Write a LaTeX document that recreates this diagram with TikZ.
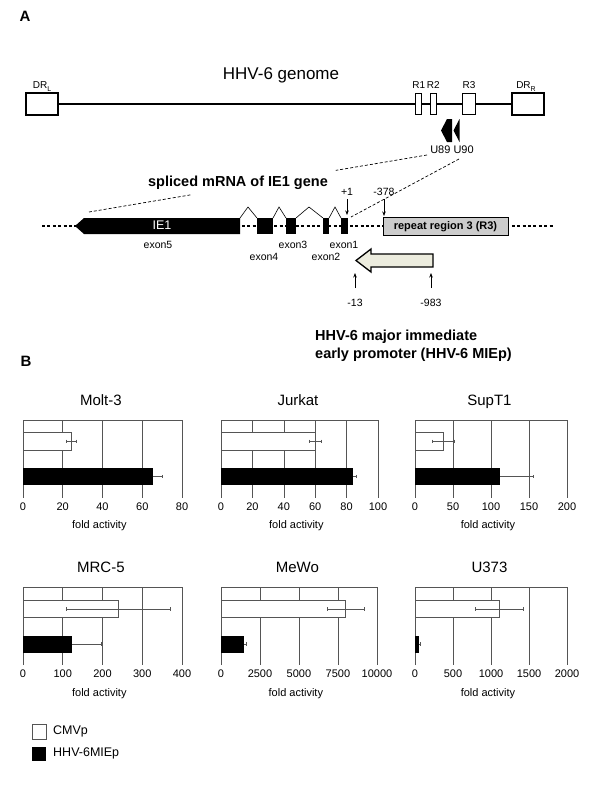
\documentclass[tikz,border=0pt]{standalone}
\usepackage{fontspec}
\setmainfont{Liberation Sans}
\usetikzlibrary{calc,arrows.meta}
\definecolor{beige}{RGB}{236,236,222}
\definecolor{rgray}{RGB}{204,204,204}
\definecolor{gline}{RGB}{85,85,85}
\newcommand\fs[1]{\fontsize{#1}{#1}\selectfont}
\newcommand\subL[1]{\raisebox{-0.5ex}{\fontsize{7}{7}\selectfont #1}}
\tikzset{
  txt/.style={inner sep=0pt, text height=0.72em, text depth=0pt},
  lbl/.style={txt, font=\fs{10.5}},
  tick/.style={txt, font=\fs{11}},
  xlab/.style={txt, font=\fs{11}},
  ctitle/.style={txt, font=\fs{15}},
  btitle/.style={txt, font=\fs{14.5}\bfseries},
  gridl/.style={draw=gline, line width=0.6pt},
  obar/.style={draw=gline, fill=white, line width=0.6pt},
  ebar/.style={draw=gline, line width=0.5pt},
  dr/.style={draw, fill=white, line width=1.4pt, minimum width=32pt, minimum height=22pt, inner sep=0pt},
  rbox/.style={draw, fill=white, line width=0.6pt, minimum height=21pt, inner sep=0pt},
  dashln/.style={line width=0.7pt, dash pattern=on 3pt off 2pt},
  dotln/.style={line width=2.8pt, dash pattern=on 3pt off 2.4pt},
  caret/.style={line width=0.6pt},
  darr/.style={line width=0.7pt, -{Stealth[length=4.5pt,width=3.5pt]}},
}
% chart frame: #1 name, #2 x0, #3 ytop, #4 xscale, #5 max, #6 grid list, #7 tick list, #8 title
\newcommand\chart[8]{%
  \begin{scope}[shift={(#2,#3)}, xscale=#4]
    \foreach \g in {#6} \draw[gridl] (\g,0) -- (\g,77.5);
    \draw[gridl] (0,77.5) -- (0,0) -- (#5,0) -- (#5,77.5);
    \foreach \t in {#7} \node[tick] at (\t,86.5) {\t};
    \node[ctitle] (#1-title) at (#5*0.49,-18.5) {#8};
    \node[xlab] (#1-xlab) at (#5*0.48,105) {fold activity};
  \end{scope}}
% bars: #1 x0, #2 ytop, #3 xscale, #4 open val, #5 open lo, #6 open hi, #7 black val, #8 black hi
\newcommand\cbars[8]{%
  \begin{scope}[shift={(#1,#2)}, xscale=#3]
    \draw[obar] (0,12.5) rectangle (#4,30);
    \draw[ebar] (#5,21.25) -- (#6,21.25);
    \draw[ebar] (#5,19.5) -- (#5,23); \draw[ebar] (#6,19.5) -- (#6,23);
    \fill[black] (0,48) rectangle (#7,65);
    \draw[ebar] (#7,56.5) -- (#8,56.5);
    \draw[ebar] (#8,54.75) -- (#8,58.25);
  \end{scope}}
\begin{document}
\begin{tikzpicture}[x=1pt, y=-1pt]
\useasboundingbox (0,0) rectangle (600,798);
\fill[white] (0,0) rectangle (600,798);

% ---------- Panel A ----------
\node[txt, font=\fs{15}\bfseries] (A) at (25,18) {A};
\node[txt, font=\fs{17}] (genome) at (281,76) {HHV-6 genome};

\node[dr] (drl) at (42,104) {};
\node[dr] (drr) at (528,104) {};
\draw[line width=1.8pt] (drl.east) -- (drr.west);
\node[rbox, minimum width=6pt] (r1) at (418,103.5) {};
\node[rbox, minimum width=6pt] (r2) at (433.5,103.5) {};
\node[rbox, minimum width=13pt] (r3) at (468.5,103.5) {};
\node[lbl, font=\fs{10}] (drll) at (42,85) {DR\subL{L}};
\node[lbl, font=\fs{10}] (drrl) at (526,85) {DR\subL{R}};
\node[lbl, font=\fs{10}] (r12l) at (426,85) {R1\,R2};
\node[lbl, font=\fs{10}] (r3l) at (469,85) {R3};

% U89 / U90 genes
\fill (441,130.5) -- (447,119) -- (452,119) -- (452,142) -- (447,142) -- cycle;
\fill (453.5,130.5) -- (459.5,119) -- (459.5,142) -- cycle;
\node[lbl, font=\fs{11}] (u) at (452,150) {U89 U90};

% dashed projection lines
\coordinate (d1s) at (427,155);
\coordinate (d1e) at (89,212);
\coordinate (d2s) at (459,159);
\coordinate (d2e) at (351,217);
\draw[dashln] (d1s) -- ($(d1s)!0.27!(d1e)$) ($(d1s)!0.70!(d1e)$) -- (d1e);
\draw[dashln] (d2s) -- (d2e);

\node[btitle] (spl) at (238,183) {spliced mRNA of IE1 gene};

% mRNA line
\draw[dotln] (42,226) -- (553,226);
\fill (75,226) -- (84,218) -- (240,218) -- (240,234) -- (84,234) -- cycle;
\node[txt, font=\fs{12.5}, text=white] (ie1) at (162,226) {IE1};
\fill (257,218) rectangle (273,234);
\fill (286,218) rectangle (296,234);
\fill (323,218) rectangle (329,234);
\fill (340.5,218) rectangle (348,234);
\draw[caret] (240,218) -- (248,207) -- (257,218);
\draw[caret] (273,218) -- (279,207) -- (286,218);
\draw[caret] (296,218) -- (309,207) -- (323,218);
\draw[caret] (329,218) -- (335,207) -- (341,218);
\node[draw, fill=rgray, line width=0.8pt, minimum width=125pt, minimum height=18pt, inner sep=0pt] (rr3) at (445.5,226) {};
\node[txt, font=\fs{11}\bfseries] (rr3t) at (rr3.center) {repeat region 3 (R3)};

\node[lbl] (ex5) at (158,245) {exon5};
\node[lbl] (ex4) at (264,257) {exon4};
\node[lbl] (ex3) at (293,245) {exon3};
\node[lbl] (ex2) at (326,257) {exon2};
\node[lbl] (ex1) at (344,245) {exon1};

\node[lbl] (p1) at (347,192) {+1};
\coordinate (p1t) at (347,215);
\draw[darr] (347,199) -- (p1t);
\node[lbl] (m378) at (384,192) {-378};
\coordinate (m378t) at (384,216);
\draw[darr] (384,199) -- (m378t);

% promoter arrow
\draw[line width=1.3pt, fill=beige, line join=miter] (356,260.5) -- (371,249) -- (371,254) -- (433,254) -- (433,267) -- (371,267) -- (371,272) -- cycle;
\node[lbl] (m13) at (355,303) {-13};
\node[lbl] (m983) at (431,303) {-983};
\coordinate (m13t) at (355,273);
\coordinate (m983t) at (431,273);
\draw[darr] (355,288) -- (m13t);
\draw[darr] (431,288) -- (m983t);
\node[btitle, anchor=west] (mie1) at (315,337) {HHV-6 major immediate};
\node[btitle, anchor=west] (mie2) at (315,355) {early promoter (HHV-6 MIEp)};

% ---------- Panel B ----------
\node[txt, font=\fs{15}\bfseries] (B) at (26,363) {B};

\chart{molt}{23}{420}{1.9875}{80}{20,40,60}{0,20,40,60,80}{Molt-3}
\cbars{23}{420}{1.9875}{24.5}{22}{27}{65.2}{70}
\chart{jurkat}{221}{420}{1.57}{100}{20,40,60,80}{0,20,40,60,80,100}{Jurkat}
\cbars{221}{420}{1.57}{60}{56}{64}{84}{86}
\chart{supt}{415}{420}{0.76}{200}{50,100,150}{0,50,100,150,200}{SupT1}
\cbars{415}{420}{0.76}{37}{23}{51}{112}{155}

\chart{mrc}{23}{587.5}{0.3975}{400}{100,200,300}{0,100,200,300,400}{MRC-5}
\cbars{23}{587.5}{0.3975}{240}{108}{370}{123}{197}
\chart{mewo}{221}{587.5}{0.0156}{10000}{2500,5000,7500}{0,2500,5000,7500,10000}{MeWo}
\cbars{221}{587.5}{0.0156}{8000}{6800}{9200}{1490}{1650}
\chart{u373}{415}{587.5}{0.076}{2000}{500,1000,1500}{0,500,1000,1500,2000}{U373}
\cbars{415}{587.5}{0.076}{1110}{790}{1430}{50}{65}

% legend
\node[draw=gline, fill=white, line width=0.6pt, minimum width=14pt, minimum height=15pt, inner sep=0pt] (lg1) at (39,731.5) {};
\node[fill=black, minimum width=14pt, minimum height=14pt, inner sep=0pt] (lg2) at (39,754) {};
\node[txt, font=\fs{12.5}, anchor=west] (lg1t) at (53,731) {CMVp};
\node[txt, font=\fs{12.5}, anchor=west] (lg2t) at (53,753) {HHV-6MIEp};
\end{tikzpicture}
\end{document}
